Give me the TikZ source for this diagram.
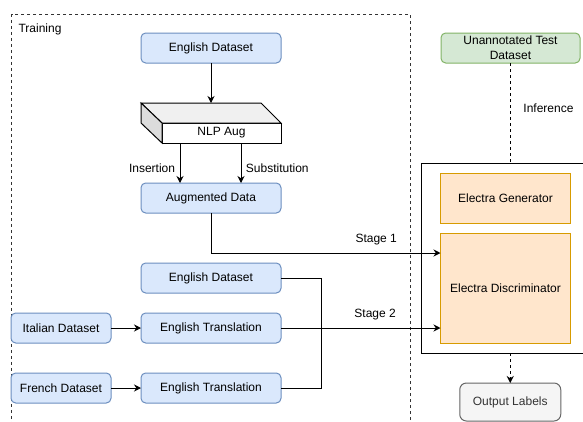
\documentclass[tikz,border=0pt]{standalone}
\usepackage{fontspec}
\setmainfont{Liberation Sans}
\usepackage{tikz}
\usetikzlibrary{calc,positioning,fit,arrows.meta}
\definecolor{bluefill}{HTML}{DAE8FC}
\definecolor{bluedraw}{HTML}{6C8EBF}
\definecolor{greenfill}{HTML}{D5E8D4}
\definecolor{greendraw}{HTML}{82B366}
\definecolor{orangefill}{HTML}{FFE6CC}
\definecolor{orangedraw}{HTML}{D79B00}
\definecolor{grayfill}{HTML}{F5F5F5}
\definecolor{graydraw}{HTML}{666666}
\definecolor{graytext}{HTML}{333333}
\definecolor{cubetop}{HTML}{F0F0F0}
\definecolor{cubeside}{HTML}{DCDCDC}
\tikzset{
  plain/.style={line width=0.75pt},
  line/.style={plain, -{Stealth[length=5.25pt,width=5.25pt]}},
  dashline/.style={plain, dash pattern=on 2.25pt off 2.25pt},
  dasharrow/.style={line, dash pattern=on 2.25pt off 2.25pt},
  trainbox/.style={draw=graytext, line width=0.75pt, dash pattern=on 2.25pt off 2.25pt, inner sep=0pt},
  box/.style={draw, rounded corners=3.5pt, align=center, inner sep=2pt, outer sep=0pt, line width=0.75pt},
  databox/.style={box, fill=bluefill, draw=bluedraw, minimum width=105pt, minimum height=22.5pt},
  srcbox/.style={databox, minimum width=75pt},
  testbox/.style={box, fill=greenfill, draw=greendraw, minimum width=104.25pt, minimum height=22.5pt},
  modelbox/.style={draw=orangedraw, fill=orangefill, line width=0.75pt, outer sep=0pt, align=center, minimum width=97.5pt},
  outbox/.style={box, fill=grayfill, draw=graydraw, text=graytext, rounded corners=5pt, minimum width=75.75pt, minimum height=28.5pt},
  cubefront/.style={draw, fill=white, line width=0.75pt, outer sep=0pt, minimum width=89.25pt, minimum height=15pt, inner sep=0pt}
}
\begin{document}
\begin{tikzpicture}[font=\fontsize{9}{11.25}\selectfont]
  \useasboundingbox (0,0) rectangle (437.25pt,-316.5pt);
  \clip (0,0) rectangle (437.25pt,-316.5pt);

  % training part
  \node[trainbox, minimum width=299.25pt, minimum height=320pt, anchor=north west] (train) at (8.25pt,-10.5pt) {};
  \node[anchor=north west, inner sep=0pt, xshift=5.5pt, yshift=-7.5pt] (trainlbl) at (train.north west) {Training};

  \node[databox] (eng) at (158.25pt,-36pt) {English Dataset};
  \node[cubefront, below=45pt of eng, xshift=7.875pt] (nlp) {NLP Aug};
  \draw[plain, fill=cubetop] (nlp.north west) -- ++(-15.75pt,15pt) -- ([shift={(-15pt,15pt)}]nlp.north east) -- (nlp.north east) -- cycle;
  \draw[plain, fill=cubeside] (nlp.north west) -- ++(-15.75pt,15pt) -- ++(0,-15pt) -- (nlp.south west) -- cycle;
  \coordinate (nlpback) at ([yshift=15pt]nlp.north);
  \node[databox, below=30pt of nlp, xshift=-7.875pt] (aug) {Augmented Data};
  \node[databox, below=37.5pt of aug] (eng2) {English Dataset};
  \node[databox, below=15pt of eng2] (itet) {English Translation};
  \node[databox, below=22.5pt of itet] (fret) {English Translation};
  \node[srcbox, left=22.5pt of itet] (ita) {Italian Dataset};
  \node[srcbox, left=22.5pt of fret] (fra) {French Dataset};

  % model part
  \node[testbox] (test) at (382.875pt,-36pt) {Unannotated Test\\Dataset};
  \node[modelbox, minimum height=37.5pt] (gen) at (379.125pt,-148.5pt) {Electra Generator};
  \node[modelbox, minimum height=82.5pt, below=7.5pt of gen] (disc) {Electra Discriminator};
  \node[draw, line width=0.75pt, inner sep=0pt, outer sep=0pt, fit={([shift={(-14.25pt,7.5pt)}]gen.north west) ([shift={(21.375pt,-7.5pt)}]disc.south east)}] (model) {};
  \node[outbox, below=22.5pt of model] (out) {Output Labels};

  \coordinate (insx) at ([xshift=-23.25pt]aug.north);
  \coordinate (subx) at ([xshift=22.5pt]aug.north);
  \coordinate (s1in) at ([yshift=-15pt]disc.north west);

  \draw[line] (eng.south) -- (eng.south |- nlpback);
  \draw[line] (insx |- nlp.south) -- (insx) node[pos=0.62, left] {Insertion};
  \draw[line] (subx |- nlp.south) -- (subx) node[pos=0.62, right] {Substitution};
  \draw[line] (aug.south) |- (s1in) node[above=2pt, pos=0.86] {Stage 1};
  \draw[line] (ita) -- (itet);
  \draw[line] (fra) -- (fret);
  \draw[line] (itet.east) -- (itet.east -| disc.west) node[above=2pt, pos=0.59] {Stage 2};
  \draw[plain] (eng2.east) -- ++(30pt,0) |- (fret.east);
  \draw[dashline] (test.south) -- (test.south |- model.north) node[pos=0.45, right=6pt] {Inference};
  \draw[dasharrow] (model.south -| out.north) -- (out.north);
\end{tikzpicture}
\end{document}
